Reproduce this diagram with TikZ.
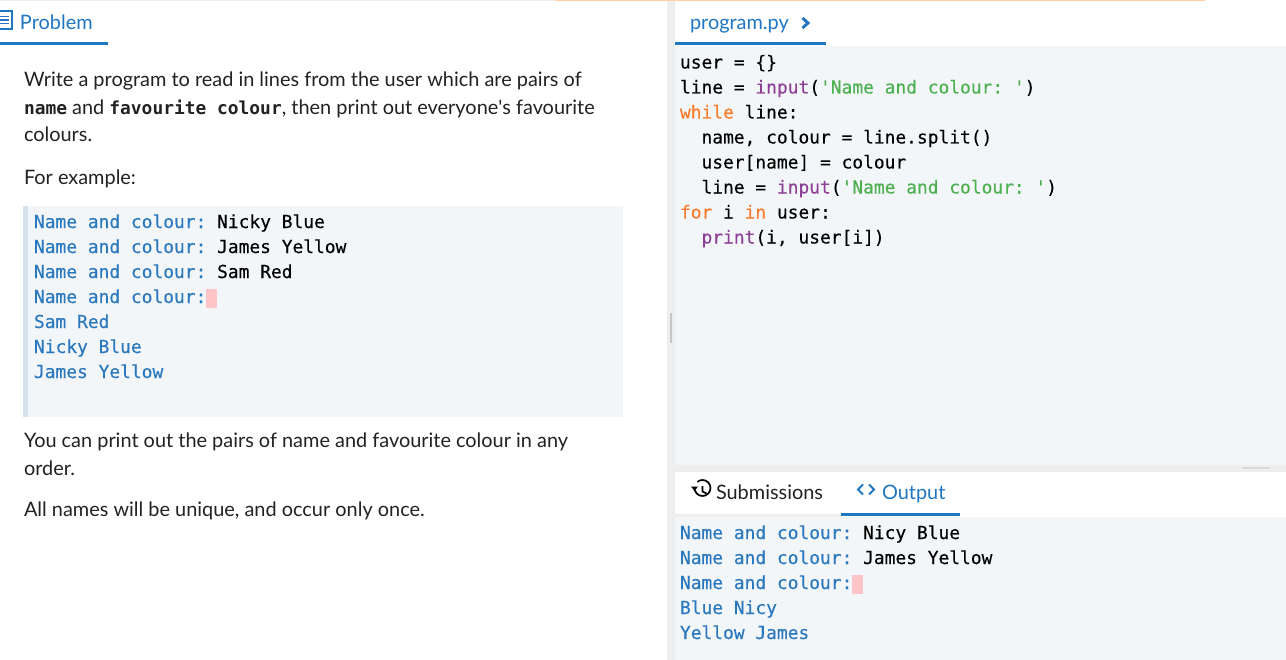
\documentclass[tikz,border=0pt]{standalone}
\usepackage{fontspec}
\setmainfont{Lato}
\newfontfamily\aposfont{Lato}
\newfontfamily\codefont{DejaVu Sans Mono}[FakeBold=0.25]
\newfontfamily\codebold{DejaVu Sans Mono Bold}
\definecolor{tabblue}{HTML}{1F77C3}
\definecolor{codeblue}{HTML}{2A78BD}
\definecolor{panelbg}{HTML}{F3F6F9}
\definecolor{gutter}{HTML}{EEEEEE}
\definecolor{quoteedge}{HTML}{D5E1EC}
\definecolor{cursorpink}{HTML}{FFC4C8}
\definecolor{kworange}{HTML}{F97B2C}
\definecolor{fnpurple}{HTML}{8E3F96}
\definecolor{strgreen}{HTML}{4CAF50}
\definecolor{inktext}{HTML}{222222}
\definecolor{topline}{HTML}{FFCFA8}
\newcommand{\cd}[1]{\textcolor{codeblue}{#1}}
\newcommand{\kw}[1]{\textcolor{kworange}{#1}}
\newcommand{\fn}[1]{\textcolor{fnpurple}{#1}}
\newcommand{\str}[1]{\textcolor{strgreen}{#1}}
\newcommand{\inl}[1]{{\codebold\fontsize{13.42pt}{16pt}\selectfont #1}}
\tikzset{
  body/.style={anchor=base west,inner sep=0pt,outer sep=0pt,text=inktext,font=\frenchspacing\fontsize{14.93pt}{18pt}\selectfont},
  tabtext/.style={body,text=tabblue},
  code/.style={anchor=base west,inner sep=0pt,outer sep=0pt,text=black,font=\frenchspacing\codefont\fontsize{13.42pt}{16pt}\selectfont},
  panel/.style={fill=panelbg,draw=none},
  bar/.style={fill=tabblue,draw=none},
}
\begin{document}
\begin{tikzpicture}[x=0.75pt,y=-0.75pt]
\useasboundingbox (0,0) rectangle (1286,660);
\fill[white] (0,0) rectangle (1286,660);
% frame
\fill[gutter] (0,0) rectangle (667,1);
\fill[gutter] (667,0) rectangle (675,660);
\fill[gutter] (675,465) rectangle (1286,472);
\fill[topline] (555,0) rectangle (1205,1.2);
\fill[panel] (675,46) rectangle (1286,465);
\fill[panel] (675,517) rectangle (1286,660);
\fill[gutter] (675,514) rectangle (841,517);
\fill[gray!45] (670,313) rectangle (672,343);
\fill[gray!30] (1242,467) rectangle (1270,468.5);
% left tab
\fill[bar] (0,42) rectangle (108,45);
\draw[tabblue,line width=1.5pt] (0,11) -- (12,11) -- (12,29) -- (0,29);
\draw[tabblue,line width=1pt] (0,16.5) -- (8.5,16.5) (0,20) -- (8.5,20) (0,23.5) -- (8.5,23.5);
\node[tabtext] (problem) at (20,29.5) {Problem};
% problem text
\node[body] (p1) at (24,86.5) {Write a program to read in lines from the user which are pairs of};
\node[body] (p2) at (24,114) {\inl{name} and \inl{favourite colour}, then print out everyone{\aposfont'}s favourite};
\node[body] (p3) at (24,142) {colours.};
\node[body] (p4) at (24,184) {For example:};
% example panel
\fill[panel] (23,206) rectangle (623,417);
\fill[quoteedge] (23,206) rectangle (28,417);
\fill[cursorpink] (206,289) rectangle (217,308);
\node[code] (e1) at (34,228) {\cd{Name and colour:} Nicky Blue};
\node[code] (e2) at (34,253) {\cd{Name and colour:} James Yellow};
\node[code] (e3) at (34,278) {\cd{Name and colour:} Sam Red};
\node[code] (e4) at (34,303) {\cd{Name and colour:}};
\node[code] (e5) at (34,328) {\cd{Sam Red}};
\node[code] (e6) at (34,353) {\cd{Nicky Blue}};
\node[code] (e7) at (34,378) {\cd{James Yellow}};
\node[body] (q1) at (24,447) {You can print out the pairs of name and favourite colour in any};
\node[body] (q2) at (24,475) {order.};
\node[body] (q3) at (24,516) {All names will be unique, and occur only once.};
% program tab
\fill[bar] (675,42) rectangle (826,45);
\node[tabtext] (prog) at (690,29.5) {program.py};
\draw[tabblue,line width=2.2pt] (802.5,18) -- (808,23) -- (802.5,28);
% code
\node[code] (c1) at (680,68.5) {user = \{\}};
\node[code] (c2) at (680,93.5) {line = \fn{input}(\str{'Name and colour: '})};
\node[code] (c3) at (680,118.5) {\kw{while} line:};
\node[code] (c4) at (680,143.5) {\ \ name, colour = line.split()};
\node[code] (c5) at (680,168.5) {\ \ user[name] = colour};
\node[code] (c6) at (680,193.5) {\ \ line = \fn{input}(\str{'Name and colour: '})};
\node[code] (c7) at (680,218.5) {\kw{for} i \kw{in} user:};
\node[code] (c8) at (680,243.5) {\ \ \fn{print}(i, user[i])};
% lower tabs
\fill[bar] (841,513) rectangle (960,516);
\draw[black,line width=1.3pt] (694.5,488) arc[start angle=180,end angle=-130,radius=8];
\draw[black,line width=1.2pt] (702.5,486) -- (702.5,491.5) -- (706.5,493.5);
\fill[black] (691,486.5) -- (698,486.5) -- (694.5,491) -- cycle;
\node[body] (sub) at (716,499) {Submissions};
\draw[tabblue,line width=1.5pt] (863,484.5) -- (858,489.5) -- (863,494.5);
\draw[tabblue,line width=1.5pt] (869,484.5) -- (874,489.5) -- (869,494.5);
\node[tabtext] (out) at (882,499) {Output};
% output
\fill[cursorpink] (852,575) rectangle (863,594);
\node[code] (o1) at (680,539) {\cd{Name and colour:} Nicy Blue};
\node[code] (o2) at (680,564) {\cd{Name and colour:} James Yellow};
\node[code] (o3) at (680,589) {\cd{Name and colour:}};
\node[code] (o4) at (680,614) {\cd{Blue Nicy}};
\node[code] (o5) at (680,639) {\cd{Yellow James}};
\end{tikzpicture}
\end{document}
